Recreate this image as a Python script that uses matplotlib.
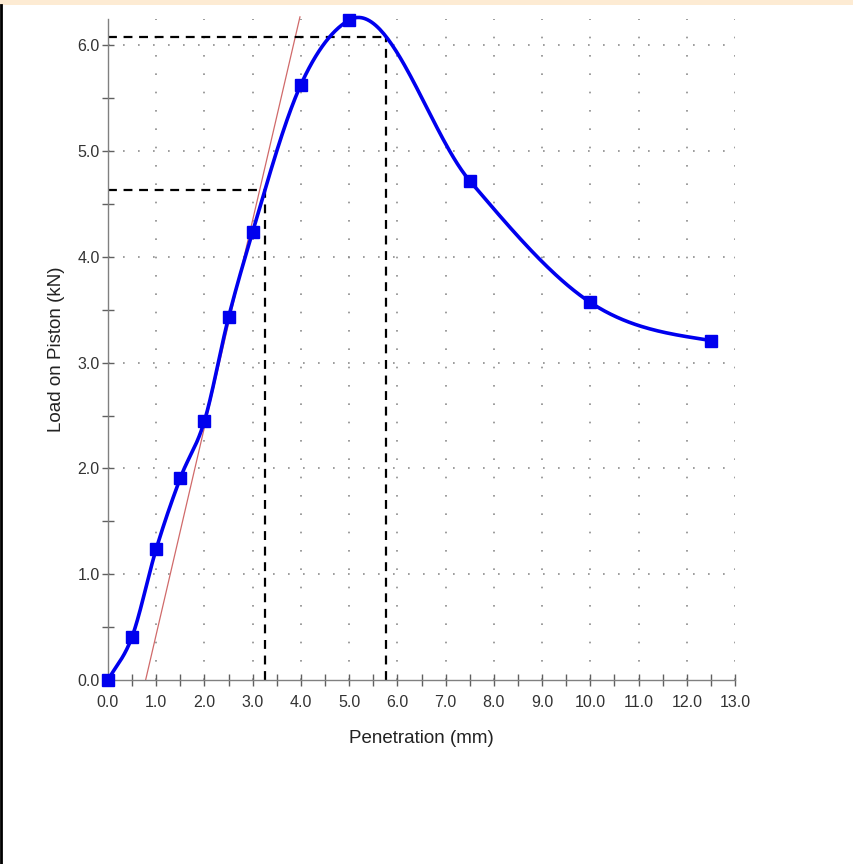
import numpy as np
import matplotlib
matplotlib.use("Agg")
import matplotlib.pyplot as plt
from matplotlib.ticker import MultipleLocator, FormatStrFormatter

# measured points
penetration = [0.0, 0.5, 1.0, 1.5, 2.0, 2.5, 3.0, 4.0, 5.0, 7.5, 10.0, 12.5]
load = [0.0, 0.41, 1.24, 1.91, 2.45, 3.43, 4.24, 5.63, 6.24, 4.72, 3.57, 3.21]

# correction construction
tangent_x = [0.78, 3.98]
tangent_y = [0.0, 6.27]
corr_1 = (3.26, 4.63)
corr_2 = (5.76, 6.08)

BLUE = "#0000ee"


def smooth_curve(x, y, n=60):
    """Cubic Hermite through the points, three-point (parabolic) slopes."""
    x = np.asarray(x, float)
    y = np.asarray(y, float)
    h = np.diff(x)
    d = np.diff(y) / h
    k = len(x)
    m = np.zeros(k)
    for i in range(1, k - 1):
        m[i] = (h[i] * d[i - 1] + h[i - 1] * d[i]) / (h[i - 1] + h[i])
    m[0] = d[0]
    m[-1] = 0.5 * d[-1]
    xs, ys = [], []
    for i in range(k - 1):
        t = np.linspace(0, 1, n)
        h00 = 2 * t ** 3 - 3 * t ** 2 + 1
        h10 = t ** 3 - 2 * t ** 2 + t
        h01 = -2 * t ** 3 + 3 * t ** 2
        h11 = t ** 3 - t ** 2
        xs.append(x[i] + t * h[i])
        ys.append(h00 * y[i] + h10 * h[i] * m[i] + h01 * y[i + 1] + h11 * h[i] * m[i + 1])
    return np.concatenate(xs), np.concatenate(ys)


plt.rcParams["font.family"] = ["Liberation Sans", "DejaVu Sans"]

fig = plt.figure(figsize=(8.54, 8.64), dpi=100)
ax = fig.add_axes([108 / 854, 1 - 680 / 864, (735 - 108) / 854, (680 - 19) / 864])

# page decoration: beige strip on top and black left border
fig.patches.append(plt.Rectangle((0, 1 - 5 / 864), 1, 5 / 864, transform=fig.transFigure,
                                 facecolor="#fdebd3", edgecolor="none", zorder=0))
fig.add_artist(plt.Line2D([1.5 / 854, 1.5 / 854], [0, 1 - 5 / 864], transform=fig.transFigure,
                          color="black", linewidth=2))

ax.set_xlim(0, 13)
ax.set_ylim(0, 6.25)

for gx in range(1, 14):
    ax.axvline(gx, color="#8c8c8c", linestyle=(0, (1, 10)), linewidth=1.2, zorder=1)
for gy in range(1, 7):
    ax.axhline(gy, color="#8c8c8c", linestyle=(0, (1, 8)), linewidth=1.2, zorder=1)

# construction lines
ax.plot(tangent_x, tangent_y, color="#d06a6a", linewidth=0.9, zorder=2, clip_on=False)
for cx, cy in (corr_1, corr_2):
    ax.plot([0, cx], [cy, cy], color="black", linestyle=(0, (4, 3)), linewidth=1.6, zorder=2)
    ax.plot([cx, cx], [0, cy], color="black", linestyle=(0, (4, 3)), linewidth=1.6, zorder=2)

sx, sy = smooth_curve(penetration, load)
ax.plot(sx, sy, color=BLUE, linewidth=2.6, zorder=3, clip_on=False)
ax.plot(penetration, load, linestyle="none", marker="s", markersize=8.5,
        color=BLUE, zorder=4, clip_on=False)

for side in ("top", "right"):
    ax.spines[side].set_visible(False)
for side in ("left", "bottom"):
    ax.spines[side].set_color("#808080")
    ax.spines[side].set_linewidth(1.0)

ax.xaxis.set_major_locator(MultipleLocator(1.0))
ax.xaxis.set_minor_locator(MultipleLocator(0.5))
ax.yaxis.set_major_locator(MultipleLocator(1.0))
ax.yaxis.set_minor_locator(MultipleLocator(0.5))
ax.xaxis.set_major_formatter(FormatStrFormatter("%.1f"))
ax.yaxis.set_major_formatter(FormatStrFormatter("%.1f"))
ax.tick_params(which="both", direction="inout", color="#606060", length=8, width=1.0,
               labelsize=11.5, labelcolor="#333333")
ax.tick_params(axis="x", pad=7)
ax.tick_params(axis="y", pad=2)

ax.set_xlabel("Penetration (mm)", fontsize=13.5, color="#222222", labelpad=14)
ax.set_ylabel("Load on Piston (kN)", fontsize=13.5, color="#222222", labelpad=9)

fig.savefig("out.png", dpi=100)
